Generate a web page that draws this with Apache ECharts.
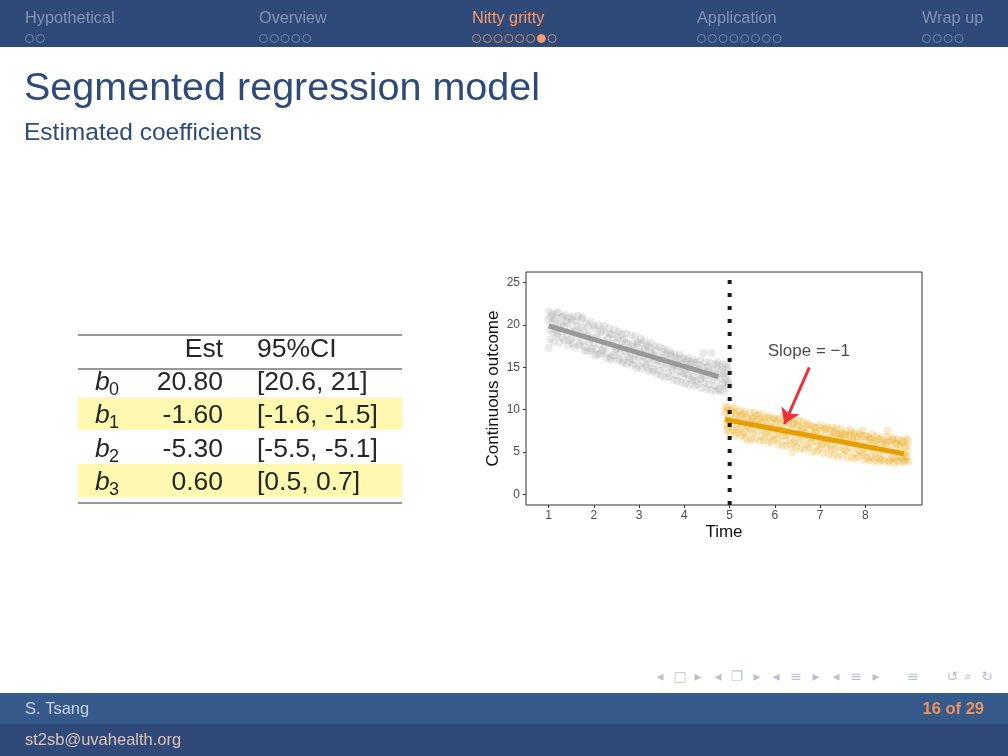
<!DOCTYPE html>
<html><head><meta charset="utf-8">
<script src="https://cdn.jsdelivr.net/npm/echarts@6/dist/echarts.min.js"></script>
<style>html,body{margin:0;padding:0;background:#fff}#c{width:1008px;height:756px}</style>
</head><body><div id="c"></div>
<script>
// ---------- slide text ----------
const sections = ['Hypothetical', 'Overview', 'Nitty gritty', 'Application', 'Wrap up'];
const sectionX = [25, 259, 472, 697, 922];
const sectionFrames = [2, 5, 8, 8, 4];
const activeSection = 2;
const activeFrame = 6;
const slideTitle = 'Segmented regression model';
const slideSubtitle = 'Estimated coefficients';
const footerAuthor = 'S. Tsang';
const footerEmail = 'st2sb@uvahealth.org';
const footerPage = '16 of 29';

// ---------- table ----------
const tableHeader = ['Est', '95%CI'];
const coefSubs = ['0', '1', '2', '3'];
const coefEst = ['20.80', '-1.60', '-5.30', '0.60'];
const coefCI = ['[20.6, 21]', '[-1.6, -1.5]', '[-5.5, -5.1]', '[0.5, 0.7]'];
const highlighted = [false, true, false, true];

// ---------- chart data ----------
const xTicks = [1, 2, 3, 4, 5, 6, 7, 8];
const yTicks = [0, 5, 10, 15, 20, 25];
const breakTime = 5;
const grayPts = [
[0.98,20.6],[1.00,17.3],[1.02,19.4],[1.05,21.0],[1.07,20.2],[1.10,19.1],[1.12,20.8],[1.15,19.6],[1.18,21.4],[1.20,18.7],
[1.23,20.1],[1.26,19.3],[1.29,20.9],[1.31,18.5],[1.34,19.8],[1.37,21.2],[1.40,19.0],[1.42,20.3],[1.45,18.2],[1.48,19.5],
[1.51,20.6],[1.53,17.8],[1.56,19.2],[1.59,20.4],[1.62,18.6],[1.64,19.9],[1.67,17.6],[1.70,18.9],[1.73,20.7],[1.76,18.1],
[1.78,19.3],[1.81,17.4],[1.84,18.7],[1.87,19.8],[1.90,17.9],[1.93,18.4],[1.95,16.9],[1.98,18.0],[2.01,19.6],[2.04,17.2],
[2.06,18.5],[2.09,16.5],[2.12,17.7],[2.15,19.2],[2.18,16.9],[2.21,18.1],[2.24,17.4],[2.26,18.9],[2.29,16.6],[2.32,17.8],
[2.35,19.0],[2.38,16.2],[2.41,17.5],[2.44,18.3],[2.47,16.8],[2.50,17.2],[2.53,18.6],[2.56,16.0],[2.59,17.3],[2.62,18.1],
[2.65,15.8],[2.68,16.9],[2.71,17.9],[2.74,16.3],[2.77,17.1],[2.80,15.6],[2.83,16.7],[2.86,17.8],[2.89,15.9],[2.92,16.4],
[2.95,17.6],[2.98,15.2],[3.01,16.8],[3.04,17.9],[3.07,15.7],[3.10,16.3],[3.13,17.2],[3.16,15.0],[3.19,16.0],[3.22,17.4],
[3.25,15.5],[3.28,16.6],[3.31,14.8],[3.34,15.9],[3.37,17.0],[3.40,15.2],[3.43,16.2],[3.46,14.6],[3.49,15.7],[3.52,16.8],
[3.55,14.9],[3.58,15.4],[3.61,16.5],[3.64,14.3],[3.67,15.6],[3.70,16.4],[3.73,14.7],[3.76,15.3],[3.79,16.2],[3.82,14.1],
[3.85,15.0],[3.88,16.0],[3.91,14.5],[3.94,15.4],[3.97,13.9],[4.00,14.8],[4.03,15.9],[4.06,14.2],[4.09,15.1],[4.12,13.7],
[4.15,14.6],[4.18,15.6],[4.21,13.9],[4.24,14.9],[4.27,13.4],[4.30,14.4],[4.33,15.3],[4.36,13.6],[4.39,14.1],[4.42,16.7],
[4.45,13.2],[4.48,14.5],[4.51,15.1],[4.54,13.0],[4.57,14.0],[4.60,16.7],[4.62,13.5],[4.65,14.7],[4.68,12.8],[4.70,13.9],
[4.73,15.2],[4.76,12.5],[4.79,13.6],[4.82,14.8],[4.85,13.1],[4.88,14.3],[4.90,12.9],[4.93,13.7],[4.95,15.0],[4.97,13.3],
[1.01,21.6],[1.04,18.3],[1.08,21.3],[1.11,18.0],[1.14,20.5],[1.17,18.9],[1.21,21.5],[1.24,17.9],[1.28,20.0],[1.32,21.0],
[1.35,18.2],[1.39,20.4],[1.43,17.6],[1.46,20.9],[1.50,18.4],[1.54,21.0],[1.57,17.3],[1.61,19.4],[1.65,21.1],[1.69,17.8],
[1.72,19.7],[1.75,20.9],[1.79,17.0],[1.83,20.2],[1.86,16.9],[1.89,18.9],[1.92,20.4],[1.96,17.2],[2.00,19.9],[2.03,16.4],
[2.07,18.8],[2.10,20.0],[2.14,16.6],[2.17,19.5],[2.20,17.0],[2.23,19.9],[2.27,16.1],[2.31,18.4],[2.34,19.6],[2.37,15.9],
[2.40,18.9],[2.43,16.4],[2.46,19.4],[2.49,17.9],[2.52,15.8],[2.55,19.2],[2.58,16.7],[2.61,18.9],[2.64,15.5],[2.67,18.3],
[2.70,19.0],[2.73,15.4],[2.76,17.8],[2.79,16.1],[2.82,18.8],[2.85,15.3],[2.88,17.4],[2.91,18.6],[2.94,14.9],[2.97,17.9],
[3.00,16.2],[3.03,18.4],[3.06,14.8],[3.09,17.0],[3.12,18.1],[3.15,15.4],[3.18,17.6],[3.21,14.6],[3.24,16.8],[3.27,17.9],
[3.30,14.5],[3.33,16.4],[3.36,17.5],[3.39,14.2],[3.42,15.8],[3.45,17.4],[3.48,14.0],[3.51,16.1],[3.54,17.2],[3.57,13.8],
[3.60,15.9],[3.63,17.0],[3.66,13.9],[3.69,16.7],[3.72,15.0],[3.75,13.5],[3.78,16.6],[3.81,15.7],[3.84,13.4],[3.87,15.2],
[3.90,16.5],[3.93,13.2],[3.96,16.1],[3.99,14.3],[4.02,13.1],[4.05,15.7],[4.08,16.1],[4.11,12.9],[4.14,15.4],[4.17,13.5],
[4.20,15.9],[4.23,12.8],[4.26,15.6],[4.29,13.0],[4.32,14.8],[4.35,15.8],[4.38,12.6],[4.41,15.0],[4.44,13.8],[4.47,15.6],
[4.50,12.4],[4.53,14.6],[4.56,15.5],[4.59,12.3],[4.63,14.4],[4.66,15.4],[4.69,12.2],[4.72,14.1],[4.75,15.6],[4.78,12.3],
[4.81,14.5],[4.84,15.3],[4.87,12.1],[4.89,13.9],[4.92,15.4],[4.94,12.6],[4.96,14.6],[4.98,13.0]
];
const orangePts = [
[4.90,9.6],[4.92,8.3],[4.94,10.2],[4.96,7.9],[4.98,9.1],[5.01,8.6],[5.04,9.8],[5.07,7.6],[5.10,8.9],[5.13,9.4],
[5.16,7.3],[5.19,8.4],[5.22,9.2],[5.25,7.8],[5.28,8.7],[5.31,9.5],[5.34,7.4],[5.37,8.1],[5.40,6.3],[5.43,8.8],
[5.46,7.6],[5.49,9.0],[5.52,7.2],[5.55,8.3],[5.58,9.3],[5.61,7.5],[5.64,8.0],[5.67,8.9],[5.70,6.9],[5.73,7.8],
[5.76,8.6],[5.79,7.1],[5.82,8.2],[5.85,9.0],[5.88,6.8],[5.91,7.7],[5.94,8.5],[5.97,7.0],[6.00,7.9],[6.03,8.7],
[6.06,6.6],[6.09,7.4],[6.12,8.3],[6.15,6.9],[6.18,7.6],[6.21,8.8],[6.24,6.4],[6.27,7.3],[6.30,8.1],[6.33,6.7],
[6.36,7.7],[6.39,5.0],[6.42,8.4],[6.45,6.5],[6.48,7.2],[6.51,8.0],[6.54,6.2],[6.57,7.0],[6.60,7.8],[6.63,6.4],
[6.66,7.3],[6.69,8.1],[6.72,5.9],[6.75,6.8],[6.78,7.6],[6.81,6.1],[6.84,7.0],[6.87,7.9],[6.90,6.3],[6.93,7.2],
[6.96,5.7],[6.99,6.6],[7.02,7.5],[7.05,5.9],[7.08,6.8],[7.11,7.7],[7.14,5.5],[7.17,6.4],[7.20,7.1],[7.23,5.8],
[7.26,6.7],[7.29,7.4],[7.32,5.3],[7.35,6.2],[7.38,7.0],[7.41,5.6],[7.44,6.5],[7.47,7.2],[7.50,5.4],[7.53,6.3],
[7.56,7.0],[7.59,5.1],[7.62,6.0],[7.65,6.8],[7.68,5.5],[7.71,6.4],[7.74,7.1],[7.77,4.9],[7.80,5.8],[7.83,6.6],
[7.86,5.2],[7.89,6.1],[7.92,6.9],[7.95,4.7],[7.98,5.6],[8.01,6.4],[8.04,5.0],[8.07,5.9],[8.10,6.7],[8.13,4.4],
[8.16,5.3],[8.19,6.1],[8.22,4.8],[8.25,5.7],[8.28,6.5],[8.31,4.2],[8.34,5.1],[8.37,6.0],[8.40,4.6],[8.43,5.4],
[8.46,6.2],[8.49,7.5],[8.52,4.0],[8.55,4.9],[8.58,5.8],[8.61,6.5],[8.64,4.3],[8.67,5.2],[8.70,6.0],[8.73,4.5],
[8.76,5.5],[8.79,6.3],[8.82,3.9],[8.85,4.8],[8.88,5.6],[8.90,4.2],[8.92,5.1],[8.94,6.4],
[4.91,10.4],[4.93,7.5],[4.95,9.9],[4.97,8.8],[5.00,7.2],[5.03,10.0],[5.06,8.0],[5.09,10.3],[5.12,7.0],[5.15,9.7],
[5.18,7.7],[5.21,9.9],[5.24,6.9],[5.27,9.3],[5.30,7.1],[5.33,9.8],[5.36,6.7],[5.39,9.1],[5.42,7.9],[5.45,9.6],
[5.48,6.5],[5.51,8.6],[5.54,9.7],[5.57,6.6],[5.60,8.8],[5.63,9.4],[5.66,6.3],[5.69,8.5],[5.72,9.5],[5.75,6.4],
[5.78,9.1],[5.81,7.4],[5.84,6.1],[5.87,9.2],[5.90,8.0],[5.93,6.2],[5.96,9.0],[5.99,6.5],[6.02,8.9],[6.05,7.6],
[6.08,5.9],[6.11,9.0],[6.14,8.1],[6.17,5.8],[6.20,9.3],[6.23,7.0],[6.26,5.7],[6.29,8.6],[6.32,9.0],[6.35,5.9],
[6.38,8.3],[6.41,6.1],[6.44,8.9],[6.47,5.6],[6.50,8.2],[6.53,8.7],[6.56,5.4],[6.59,7.5],[6.62,8.6],[6.65,5.3],
[6.68,7.1],[6.71,8.4],[6.74,5.5],[6.77,8.2],[6.80,6.6],[6.83,5.1],[6.86,8.0],[6.89,7.3],[6.92,5.0],[6.95,7.9],
[6.98,5.4],[7.01,8.2],[7.04,6.3],[7.07,4.9],[7.10,7.8],[7.13,6.1],[7.16,8.0],[7.19,4.7],[7.22,7.6],[7.25,5.4],
[7.28,7.9],[7.31,4.6],[7.34,7.2],[7.37,7.8],[7.40,4.5],[7.43,6.9],[7.46,7.7],[7.49,4.6],[7.52,7.1],[7.55,5.2],
[7.58,7.5],[7.61,4.3],[7.64,7.0],[7.67,7.6],[7.70,4.4],[7.73,6.2],[7.76,7.3],[7.79,4.2],[7.82,6.9],[7.85,4.5],
[7.88,7.2],[7.91,5.0],[7.94,7.5],[7.97,4.0],[8.00,6.9],[8.03,4.3],[8.06,6.8],[8.09,4.1],[8.12,6.5],[8.15,7.1],
[8.18,3.9],[8.21,6.3],[8.24,4.4],[8.27,6.9],[8.30,3.8],[8.33,6.6],[8.36,4.1],[8.39,6.4],[8.42,3.9],[8.45,5.9],
[8.48,6.8],[8.51,3.8],[8.54,6.3],[8.57,4.2],[8.60,6.6],[8.63,3.7],[8.66,6.1],[8.69,4.0],[8.72,6.5],[8.75,3.8],
[8.78,5.9],[8.81,4.4],[8.84,6.2],[8.87,3.9],[8.89,6.6],[8.91,4.5],[8.93,5.8],[8.95,3.9]
];
const grayFit = [[1.0, 19.9], [4.75, 13.9]];
const orangeFit = [[4.9, 8.85], [8.85, 4.8]];
const yRange = [-1.25, 26.25];
const xRange = [0.5, 9.25];
const annotText = 'Slope = \u22121';
const annotPos = [6.75, 16.9];
const arrowFrom = [6.76, 15.0];
const arrowTo = [6.21, 8.3];

// ---------- build ----------
const FONT = '"Liberation Sans", Arial, Helvetica, sans-serif';
const headerBg = '#2f4a78';
const g = [];
// header
g.push({type:'rect', shape:{x:0,y:0,width:1008,height:47}, style:{fill:headerBg}, silent:true});
sections.forEach((s, i) => {
  const active = i === activeSection;
  const col = active ? '#f39a6e' : '#8194b9';
  g.push({type:'text', x:sectionX[i], y:19, style:{text:s, fill:col, fontSize:16.3, fontFamily:FONT, verticalAlign:'middle', align:'left'}});
  for (let k = 0; k < sectionFrames[i]; k++) {
    const filled = active && k === activeFrame;
    g.push({type:'circle', shape:{cx:sectionX[i]+4.5+k*10.8, cy:38.5, r:4}, style:{fill: filled ? col : 'none', stroke:col, lineWidth:0.8}});
  }
});
// title
g.push({type:'text', x:24, y:89, style:{text:slideTitle, fill:'#2f4a78', fontSize:39.5, fontFamily:FONT, verticalAlign:'middle'}});
g.push({type:'text', x:24, y:133, style:{text:slideSubtitle, fill:'#2f4a78', fontSize:24.5, fontFamily:FONT, verticalAlign:'middle'}});
// table
const tL = 78, tR = 402;
const rowY = [383, 416, 450, 483];
const TFS = 26.5;
highlighted.forEach((h, i) => { if (h) g.push({type:'rect', shape:{x:tL, y:rowY[i]-19, width:tR-tL, height:33}, style:{fill:'#fff8b0'}}); });
[335, 369, 503].forEach(y => g.push({type:'line', shape:{x1:tL,y1:y,x2:tR,y2:y}, style:{stroke:'#333', lineWidth:1}}));
const tcol = '#262626';
g.push({type:'text', x:223, y:350, style:{text:tableHeader[0], fill:tcol, fontSize:TFS, fontFamily:FONT, align:'right', verticalAlign:'middle'}});
g.push({type:'text', x:257, y:350, style:{text:tableHeader[1], fill:tcol, fontSize:TFS, fontFamily:FONT, align:'left', verticalAlign:'middle'}});
coefSubs.forEach((sub, i) => {
  g.push({type:'text', x:95, y:rowY[i], style:{text:'b', fill:tcol, fontSize:TFS, fontStyle:'italic', fontFamily:FONT, align:'left', verticalAlign:'middle'}});
  g.push({type:'text', x:109, y:rowY[i]+7, style:{text:sub, fill:tcol, fontSize:18, fontFamily:FONT, align:'left', verticalAlign:'middle'}});
  g.push({type:'text', x:223, y:rowY[i], style:{text:coefEst[i], fill:tcol, fontSize:TFS, fontFamily:FONT, align:'right', verticalAlign:'middle'}});
  g.push({type:'text', x:257, y:rowY[i], style:{text:coefCI[i], fill:tcol, fontSize:TFS, fontFamily:FONT, align:'left', verticalAlign:'middle'}});
});
// nav symbols
const navSyms = [['\u25C2',660],['\u25A1',680],['\u25B8',698],['\u25C2',718],['\u2750',737],['\u25B8',757],['\u25C2',776],['\u2261',796],['\u25B8',816],['\u25C2',836],['\u2261',856],['\u25B8',876],['\u2261',913],['\u21BA',952],['\u2315',968],['\u21BB',987]];
navSyms.forEach(([t,x]) => g.push({type:'text', x:x, y:677, style:{text:t, fill:'#b8bfd0', fontSize:14, fontFamily:'"DejaVu Sans", sans-serif', align:'center', verticalAlign:'middle'}}));
// footer
g.push({type:'rect', shape:{x:0,y:693,width:1008,height:31}, style:{fill:'#365b8b'}});
g.push({type:'rect', shape:{x:0,y:724,width:1008,height:32}, style:{fill:'#2f4a79'}});
g.push({type:'text', x:25, y:709, style:{text:footerAuthor, fill:'#c9cede', fontSize:16.5, fontFamily:FONT, verticalAlign:'middle'}});
g.push({type:'text', x:984, y:709, style:{text:footerPage, fill:'#f0925e', fontSize:16.5, fontWeight:'bold', fontFamily:FONT, align:'right', verticalAlign:'middle'}});
g.push({type:'text', x:25, y:740, style:{text:footerEmail, fill:'#dcc3b8', fontSize:16.5, fontFamily:FONT, verticalAlign:'middle'}});

const chart = echarts.init(document.getElementById('c'), null, {renderer:'canvas'});
chart.setOption({
  animation: false,
  backgroundColor: '#ffffff',
  graphic: g,
  grid: {left:526, top:272, width:396, height:233, show:true, borderColor:'#333', borderWidth:1, backgroundColor:'#fff'},
  xAxis: {
    type:'value', min:xRange[0], max:xRange[1],
    name:'Time', nameLocation:'middle', nameGap:19,
    nameTextStyle:{fontSize:17, color:'#111', fontFamily:FONT},
    axisLine:{show:false, onZero:false}, splitLine:{show:false},
    axisTick:{show:true, length:3, lineStyle:{color:'#333'}, customValues:xTicks},
    axisLabel:{customValues:xTicks, margin:5, fontSize:12, color:'#4d4d4d', fontFamily:FONT}
  },
  yAxis: {
    type:'value', min:yRange[0], max:yRange[1],
    name:'Continuous outcome', nameLocation:'middle', nameGap:24, nameRotate:90,
    nameTextStyle:{fontSize:17, color:'#111', fontFamily:FONT},
    axisLine:{show:false, onZero:false}, splitLine:{show:false},
    axisTick:{show:true, length:3, lineStyle:{color:'#333'}, customValues:yTicks},
    axisLabel:{customValues:yTicks, margin:6, fontSize:12, color:'#4d4d4d', fontFamily:FONT}
  },
  series: [
    {type:'scatter', data:grayPts, symbolSize:8, itemStyle:{color:'#999999', opacity:0.2}, silent:true, z:2},
    {type:'scatter', data:orangePts, symbolSize:8, itemStyle:{color:'#E69F00', opacity:0.2}, silent:true, z:2},
    {type:'line', data:grayFit, symbol:'none', lineStyle:{color:'#999999', width:5}, z:3},
    {type:'line', data:orangeFit, symbol:'none', lineStyle:{color:'#E69F00', width:5}, z:3},
    {type:'line', data:[[breakTime, yRange[0]], [breakTime, yRange[1]]], symbol:'none', lineStyle:{color:'#1a1a1a', width:4, type:[4,9], cap:'butt'}, z:4},
    {type:'lines', coordinateSystem:'cartesian2d', data:[{coords:[arrowFrom, arrowTo]}], symbol:['none','arrow'], symbolSize:15, lineStyle:{color:'#e8333a', width:3, opacity:1}, z:5, silent:true},
    {type:'scatter', data:[annotPos], symbolSize:0, silent:true, z:6,
      label:{show:true, position:'inside', formatter:annotText, fontSize:17, color:'#1a1a1a', fontFamily:FONT}}
  ]
});
</script></body></html>
